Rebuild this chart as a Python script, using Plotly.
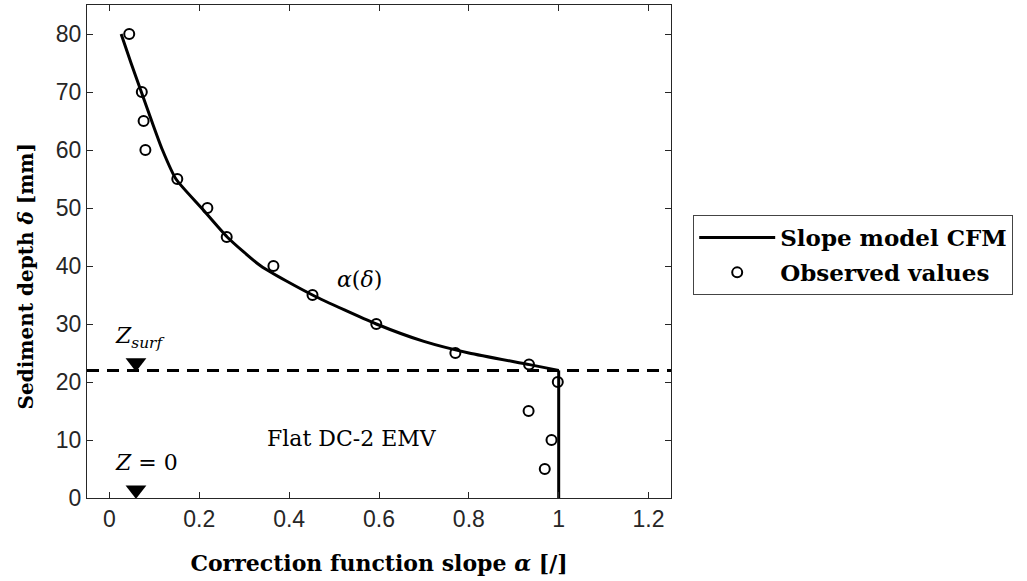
import plotly.graph_objects as go

# Observed values (alpha, depth)
obs_alpha = [0.044, 0.072, 0.076, 0.080, 0.151, 0.218, 0.261, 0.365, 0.452, 0.594, 0.770, 0.934, 0.998, 0.933, 0.984, 0.969]
obs_depth = [80, 70, 65, 60, 55, 50, 45, 40, 35, 30, 25, 23, 20, 15, 10, 5]

# Slope model CFM
model_alpha = [0.026, 0.048, 0.071, 0.094, 0.118, 0.148, 0.205, 0.262, 0.337, 0.452, 0.594, 0.700, 0.800, 0.935, 1.0]
model_depth = [80, 75, 70, 65, 60, 55, 50, 45, 40, 35, 30, 27, 25, 23, 22]
flat_alpha = [1.0, 1.0]
flat_depth = [22, 0]

z_surf = 22
marker_alpha = [0.059, 0.059]
marker_depth = [23.3, 1.4]

xticks = [0, 0.2, 0.4, 0.6, 0.8, 1.0, 1.2]
xticklabels = ["0", "0.2", "0.4", "0.6", "0.8", "1", "1.2"]
yticks = [0, 10, 20, 30, 40, 50, 60, 70, 80]

serif = "DejaVu Serif"
fig = go.Figure()

fig.add_hline(y=z_surf, line=dict(color="black", width=3, dash="12px,8px"), layer="below")

fig.add_trace(go.Scatter(x=model_alpha, y=model_depth, mode="lines",
                         line=dict(color="black", width=3, shape="spline", smoothing=0.6),
                         name="<b>Slope model CFM</b>", legendgroup="m"))
fig.add_trace(go.Scatter(x=flat_alpha, y=flat_depth, mode="lines",
                         line=dict(color="black", width=3),
                         showlegend=False, legendgroup="m"))
fig.add_trace(go.Scatter(x=obs_alpha, y=obs_depth, mode="markers",
                         marker=dict(symbol="circle-open", size=10, color="black", line=dict(width=2)),
                         name="<b>Observed values</b>", legendgroup="o"))
fig.add_trace(go.Scatter(x=marker_alpha, y=marker_depth, mode="markers",
                         marker=dict(symbol="triangle-down", size=18, color="black"),
                         showlegend=False, hoverinfo="skip"))

ann_font = dict(family=serif, size=22, color="black")
fig.add_annotation(x=0.067, y=27.6, text="<i>Z</i><sub><i>surf</i></sub>", showarrow=False, font=ann_font)
fig.add_annotation(x=0.082, y=6.2, text="<i>Z</i> = 0", showarrow=False, font=ann_font)
fig.add_annotation(x=0.54, y=10.3, text="Flat DC-2 EMV", showarrow=False, font=ann_font)
fig.add_annotation(x=0.556, y=37.6, text="<i>α</i>(<i>δ</i>)", showarrow=False, font=ann_font)

fig.add_annotation(xref="paper", yref="paper", x=-0.104, y=0.45, textangle=-90,
                   xanchor="center", yanchor="middle",
                   text="<b>Sediment depth <i>δ</i> [mm]</b>", showarrow=False,
                   font=dict(family=serif, size=20, color="black"))

axis_common = dict(showgrid=False, zeroline=False, ticks="inside", ticklen=6,
                   tickcolor="#262626", linecolor="#262626", linewidth=1.3,
                   showline=True, mirror="ticks",
                   tickfont=dict(family="Liberation Sans", size=23, color="#262626"))

fig.update_xaxes(range=[-0.05, 1.25], tickvals=xticks, ticktext=xticklabels,
                 title=dict(text="<b>Correction function slope <i>α</i> [/]</b>",
                            font=dict(family=serif, size=22, color="black"), standoff=24),
                 **axis_common)
fig.update_yaxes(range=[0, 85], tickvals=yticks, **axis_common)

fig.update_layout(
    width=1027, height=581,
    margin=dict(l=87, r=356, t=5, b=83, autoexpand=False),
    plot_bgcolor="white", paper_bgcolor="white",
    showlegend=True,
    legend=dict(x=1.038, y=0.574, xanchor="left", yanchor="top",
                bordercolor="#444", borderwidth=1, bgcolor="white",
                font=dict(family=serif, size=23, color="black"),
                itemwidth=76,
                tracegroupgap=2, traceorder="grouped"),
)

fig.write_html("out.html")
